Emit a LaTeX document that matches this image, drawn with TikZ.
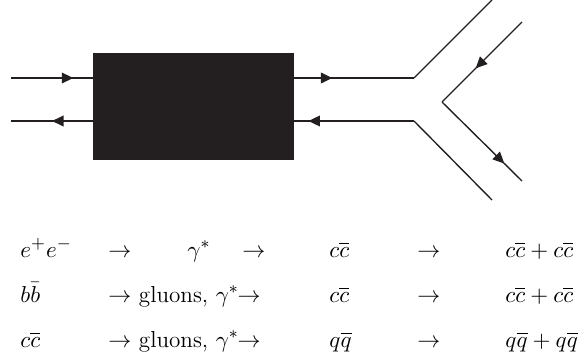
\documentclass[tikz,border=0pt]{standalone}
\usepackage{xcolor}
\usepackage{amssymb}
\usepackage{tikz}
\usetikzlibrary{arrows.meta,decorations.markings}

\definecolor{inkblack}{RGB}{35,31,32}
\tikzset{
  quark/.style={line width=1pt, draw=inkblack},
  leg/.style={line width=0.65pt, draw=inkblack},
  arrowat/.style={postaction={decorate}, decoration={markings,
      mark=at position #1 with {\arrow{Triangle[length=5.5pt,width=5pt]}}}},
  proc/.style={anchor=base west, inner sep=0pt, font=\fontsize{11pt}{13pt}\selectfont},
}

\begin{document}
\begin{tikzpicture}[x=0.476pt, y=-0.476pt]
\useasboundingbox (0,0) rectangle (578,358);
% the blob
\fill[inkblack] (93,53) rectangle (294,160);
% end points
\coordinate (inup) at (11,78);
\coordinate (indown) at (11,121);
\coordinate (blobupl) at (93,78);
\coordinate (blobdownl) at (93,121);
\coordinate (blobupr) at (294,78);
\coordinate (blobdownr) at (294,121);
\coordinate (forkup) at (414,78);
\coordinate (forkdown) at (414,121);
\coordinate (outup) at (492,0);
\coordinate (outdown) at (492,200);
\coordinate (pairin) at (522,22);
\coordinate (pairtip) at (442,102);
\coordinate (pairout) at (522,181);
% lines into and out of the blob
\draw[quark, arrowat=0.76] (inup) -- (blobupl);
\draw[quark, arrowat=0.5] (blobdownl) -- (indown);
\draw[quark, arrowat=0.32] (blobupr) -- (forkup);
\draw[quark, arrowat=0.88] (forkdown) -- (blobdownr);
\draw[leg] (forkup) -- (outup);
\draw[leg] (forkdown) -- (outdown);
% the new pair
\draw[leg, arrowat=0.58] (pairin) -- (pairtip);
\draw[leg, arrowat=0.78] (pairtip) -- (pairout);
% the processes
\node[proc] (ee) at (20,257) {$e^+e^-$};
\node[proc] (eea) at (108,257) {$\rightarrow$};
\node[proc] (eeg) at (187,257) {$\gamma^*$};
\node[proc] (eeb) at (242,257) {$\rightarrow$};
\node[proc] (eec) at (329,257) {$c\overline{c}$};
\node[proc] (eed) at (417,257) {$\rightarrow$};
\node[proc] (eef) at (505,257) {$c\overline{c}+c\overline{c}$};
\node[proc] (bb) at (20,302) {$b\bar{b}$};
\node[proc] (bba) at (108,302) {$\rightarrow$ gluons, $\gamma^*\!\!\rightarrow$};
\node[proc] (bbc) at (329,302) {$c\overline{c}$};
\node[proc] (bbd) at (417,302) {$\rightarrow$};
\node[proc] (bbf) at (505,302) {$c\overline{c}+c\overline{c}$};
\node[proc] (cc) at (20,347) {$c\overline{c}$};
\node[proc] (cca) at (108,347) {$\rightarrow$ gluons, $\gamma^*\!\!\rightarrow$};
\node[proc] (ccc) at (329,347) {$q\overline{q}$};
\node[proc] (ccd) at (417,347) {$\rightarrow$};
\node[proc] (ccf) at (505,347) {$q\overline{q}+q\overline{q}$};
\end{tikzpicture}
\end{document}
